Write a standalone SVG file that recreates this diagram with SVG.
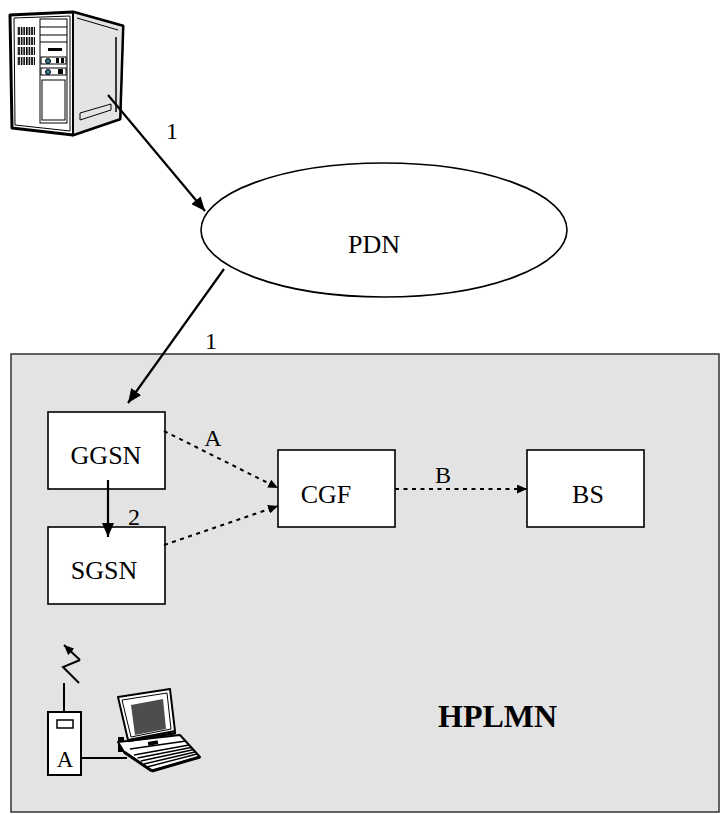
<svg xmlns="http://www.w3.org/2000/svg" width="722" height="814" viewBox="0 0 722 814">
<style>
.t{font-family:"Liberation Serif","Times New Roman",serif;fill:#000}
.n{font-size:26px;text-anchor:middle}
.l{font-size:24px;text-anchor:middle}
.box{fill:#fff;stroke:#000;stroke-width:1.6}
.solid{stroke:#000;stroke-width:2.2;fill:none}
.dot{stroke:#000;stroke-width:2;fill:none;stroke-dasharray:4 4.5}
</style>
<defs>
<marker id="ah" viewBox="0 0 14 12" refX="14" refY="6" markerWidth="14" markerHeight="12" orient="auto" markerUnits="userSpaceOnUse"><path d="M0,0 L14,6 L0,12 z" fill="#000"/></marker>
<marker id="ahs" viewBox="0 0 10 9" refX="10" refY="4.5" markerWidth="10" markerHeight="9" orient="auto" markerUnits="userSpaceOnUse"><path d="M0,0 L10,4.5 L0,9 z" fill="#000"/></marker>
<pattern id="vent" width="2.6" height="4" patternUnits="userSpaceOnUse"><rect x="0" y="0" width="1.6" height="4" fill="#000"/></pattern>
</defs>

<g id="hplmn">
<rect x="11" y="354" width="708" height="458" fill="#e3e3e3" stroke="#333" stroke-width="1.5"/>
<text class="t" x="438" y="727" font-size="32" font-weight="bold">HPLMN</text>
</g>

<g id="server">
<polygon points="10,15 73,12 123,26 120,119 73,135 12,128" fill="#fff" stroke="#000" stroke-width="3" stroke-linejoin="round"/>
<polygon points="73,12 123,26 120,119 73,135" fill="#e4e4e4" stroke="#000" stroke-width="2"/>
<polyline points="14,18 70,16 70,131 15,125 14,18" fill="none" stroke="#000" stroke-width="1"/>
<polyline points="77,18 118,30" fill="none" stroke="#000" stroke-width="1"/>
<line x1="116" y1="37" x2="116" y2="112" stroke="#000" stroke-width="1.5"/>
<polygon points="80,113 111,104 111,110 80,120" fill="none" stroke="#000" stroke-width="1"/>
<rect x="40" y="19" width="27" height="104" fill="none" stroke="#000" stroke-width="1"/>
<line x1="40" y1="27" x2="67" y2="27" stroke="#000" stroke-width="1"/>
<line x1="40" y1="35" x2="67" y2="35" stroke="#000" stroke-width="1"/>
<line x1="40" y1="42" x2="67" y2="42" stroke="#000" stroke-width="1"/>
<rect x="48" y="48" width="14" height="3" fill="#000"/>
<rect x="41" y="57" width="25" height="7" fill="#fff" stroke="#000" stroke-width="1"/>
<circle cx="48" cy="61" r="2.5" fill="#2c7f8f" stroke="#000" stroke-width="1"/>
<rect x="56" y="58" width="3" height="5" fill="#000"/>
<rect x="61" y="58" width="3" height="5" fill="#000"/>
<rect x="41" y="68" width="25" height="7" fill="#fff" stroke="#000" stroke-width="1"/>
<circle cx="48" cy="72" r="2.5" fill="#2c7f8f" stroke="#000" stroke-width="1"/>
<rect x="58" y="69" width="5" height="5" fill="#000"/>
<rect x="42" y="80" width="23" height="40" fill="none" stroke="#000" stroke-width="1"/>
<rect x="17" y="27" width="18" height="8" fill="url(#vent)"/>
<rect x="17" y="37" width="18" height="8" fill="url(#vent)"/>
<rect x="17" y="47" width="18" height="8" fill="url(#vent)"/>
<rect x="17" y="57" width="18" height="8" fill="url(#vent)"/>
</g>

<g id="pdn">
<ellipse cx="384" cy="230" rx="183" ry="67" fill="#fff" stroke="#000" stroke-width="1.6"/>
<text class="t n" x="374" y="253">PDN</text>
</g>

<g id="ggsn">
<rect class="box" x="48" y="412" width="117" height="77"/>
<text class="t n" x="106" y="464">GGSN</text>
</g>
<g id="sgsn">
<rect class="box" x="48" y="527" width="117" height="77"/>
<text class="t n" x="104" y="579">SGSN</text>
</g>
<g id="cgf">
<rect class="box" x="278" y="450" width="117" height="77"/>
<text class="t n" x="326" y="503">CGF</text>
</g>
<g id="bs">
<rect class="box" x="527" y="450" width="117" height="77"/>
<text class="t n" x="588" y="503">BS</text>
</g>

<g id="mobile">
<polyline points="80,660 63,667 79,683" fill="none" stroke="#000" stroke-width="2"/>
<line x1="80" y1="660" x2="64" y2="645" stroke="#000" stroke-width="2" marker-end="url(#ahs)"/>
<line x1="64" y1="683" x2="64" y2="712" stroke="#000" stroke-width="2"/>
<rect x="48" y="712" width="33" height="63" fill="#fff" stroke="#000" stroke-width="2"/>
<rect x="57" y="720" width="16" height="8" fill="#fff" stroke="#000" stroke-width="1.5"/>
<text class="t" x="65" y="767" font-size="23" text-anchor="middle">A</text>
<line x1="81" y1="758" x2="127" y2="758" stroke="#000" stroke-width="2"/>
</g>

<g id="laptop">
<rect x="118" y="737" width="6" height="15" fill="#000"/>
<polygon points="118,742 180,735 200,757 152,771 124,752" fill="#fff" stroke="#000" stroke-width="2" stroke-linejoin="round"/>
<line x1="124" y1="752" x2="152" y2="771" stroke="#000" stroke-width="3"/>
<line x1="152" y1="771" x2="200" y2="757" stroke="#000" stroke-width="3"/>
<polygon points="118,697 170,689 175,731 128,740" fill="#fff" stroke="#000" stroke-width="2" stroke-linejoin="round"/>
<polygon points="122,700 167,693 171,729 131,737" fill="none" stroke="#000" stroke-width="1"/>
<polygon points="131,705 163,699 166,729 135,735" fill="#4d4d4d"/>
<line x1="128" y1="741" x2="176" y2="733" stroke="#000" stroke-width="2.5"/>
<g stroke="#000" stroke-width="1.4">
<line x1="130" y1="749" x2="186" y2="741"/>
<line x1="134" y1="755" x2="189" y2="745"/>
<line x1="137.6" y1="758" x2="191" y2="747.5"/>
<line x1="140.8" y1="761" x2="193" y2="749.8"/>
<line x1="144" y1="764" x2="195" y2="752"/>
<line x1="147" y1="767" x2="197" y2="754"/>
</g>
<rect x="148" y="741" width="10" height="4" fill="#000" transform="rotate(-10 153 743)"/>
</g>

<g id="connectors">
<line class="solid" x1="108" y1="95" x2="205" y2="211" marker-end="url(#ah)"/>
<line class="solid" x1="224" y1="269" x2="128" y2="403" marker-end="url(#ah)"/>
<line class="solid" x1="108" y1="480" x2="108" y2="537" marker-end="url(#ah)"/>
<line class="dot" x1="164" y1="431" x2="278" y2="488" marker-end="url(#ahs)"/>
<line class="dot" x1="164" y1="545" x2="278" y2="506" marker-end="url(#ahs)"/>
<line class="dot" x1="395" y1="489" x2="527" y2="489" marker-end="url(#ahs)"/>
<text class="t l" x="172" y="139">1</text>
<text class="t l" x="211" y="349">1</text>
<text class="t l" x="213" y="446">A</text>
<text class="t l" x="443" y="483">B</text>
<text class="t l" x="134" y="525">2</text>
</g>
</svg>
